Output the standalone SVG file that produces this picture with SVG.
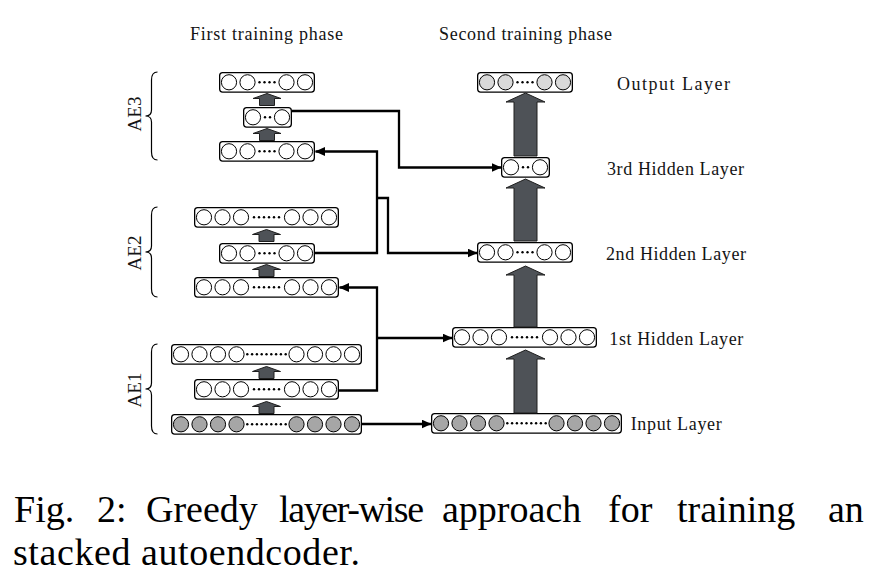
<svg xmlns="http://www.w3.org/2000/svg" xmlns:xlink="http://www.w3.org/1999/xlink" width="877" height="579" viewBox="0 0 877 579">
<style>
.box{fill:#fff;stroke:#000;stroke-width:1.3}
.c{stroke:#000;stroke-width:1}
.dot{fill:#000}
.blk{fill:#4e5257;stroke:#1e1e1e;stroke-width:1}
.con{fill:none;stroke:#000;stroke-width:2.3;stroke-linejoin:miter}
.lbl{font-family:"Liberation Serif","Times New Roman",serif;font-size:18px;fill:#141414;text-anchor:middle}
.ae{font-family:"Liberation Serif","Times New Roman",serif;font-size:19px;fill:#141414;text-anchor:middle}
.cap{font-family:"Liberation Serif","Times New Roman",serif;font-size:38px;fill:#000}
.brace{fill:none;stroke:#000;stroke-width:1.2}
</style>
<defs>
<marker id="ah" markerUnits="userSpaceOnUse" markerWidth="10" markerHeight="9" refX="9.5" refY="4.5" orient="auto">
<path d="M0,0 L10,4.5 L0,9 Z" fill="#000"/>
</marker>
<g id="L1">
<rect class="box" x="0.65" y="0.65" width="47.7" height="19.4" rx="3"/>
<circle class="c" cx="10" cy="10.3" r="7.6"/><circle class="c" cx="39" cy="10.3" r="7.6"/>
<circle class="dot" cx="22" cy="10.3" r="1.2"/><circle class="dot" cx="27" cy="10.3" r="1.2"/>
</g>
<g id="L2">
<rect class="box" x="0.65" y="0.65" width="94.7" height="19.4" rx="3"/>
<circle class="c" cx="10" cy="10.3" r="7.6"/><circle class="c" cx="28.5" cy="10.3" r="7.6"/>
<circle class="c" cx="67.5" cy="10.3" r="7.6"/><circle class="c" cx="86" cy="10.3" r="7.6"/>
<circle class="dot" cx="40.5" cy="10.3" r="1.2"/><circle class="dot" cx="45.5" cy="10.3" r="1.2"/>
<circle class="dot" cx="50.5" cy="10.3" r="1.2"/><circle class="dot" cx="55.5" cy="10.3" r="1.2"/>
</g>
<g id="L3">
<rect class="box" x="0.65" y="0.65" width="143.7" height="19.4" rx="3"/>
<circle class="c" cx="10" cy="10.3" r="7.6"/><circle class="c" cx="28.5" cy="10.3" r="7.6"/><circle class="c" cx="47" cy="10.3" r="7.6"/>
<circle class="c" cx="98" cy="10.3" r="7.6"/><circle class="c" cx="116.5" cy="10.3" r="7.6"/><circle class="c" cx="135" cy="10.3" r="7.6"/>
<circle class="dot" cx="60" cy="10.3" r="1.2"/><circle class="dot" cx="65" cy="10.3" r="1.2"/><circle class="dot" cx="70" cy="10.3" r="1.2"/>
<circle class="dot" cx="75" cy="10.3" r="1.2"/><circle class="dot" cx="80" cy="10.3" r="1.2"/><circle class="dot" cx="85" cy="10.3" r="1.2"/>
</g>
<g id="L4">
<rect class="box" x="0.65" y="0.65" width="189.7" height="19.4" rx="3"/>
<circle class="c" cx="10" cy="10.3" r="7.6"/><circle class="c" cx="28.5" cy="10.3" r="7.6"/><circle class="c" cx="47" cy="10.3" r="7.6"/><circle class="c" cx="65.5" cy="10.3" r="7.6"/>
<circle class="c" cx="125.5" cy="10.3" r="7.6"/><circle class="c" cx="144" cy="10.3" r="7.6"/><circle class="c" cx="162.5" cy="10.3" r="7.6"/><circle class="c" cx="181" cy="10.3" r="7.6"/>
<circle class="dot" cx="76.3" cy="10.3" r="1.2"/><circle class="dot" cx="81.1" cy="10.3" r="1.2"/><circle class="dot" cx="85.9" cy="10.3" r="1.2"/>
<circle class="dot" cx="90.7" cy="10.3" r="1.2"/><circle class="dot" cx="95.5" cy="10.3" r="1.2"/><circle class="dot" cx="100.3" cy="10.3" r="1.2"/>
<circle class="dot" cx="105.1" cy="10.3" r="1.2"/><circle class="dot" cx="109.9" cy="10.3" r="1.2"/><circle class="dot" cx="114.7" cy="10.3" r="1.2"/>
</g>
<path id="sa" class="blk" d="M-14,5 L0,0 L14,5 L7.5,5 L7.5,12 L-7.5,12 L-7.5,5 Z"/>
</defs>
<rect width="877" height="579" fill="#fff"/>

<!-- headers -->
<text class="lbl" x="266.5" y="40" textLength="153">First training phase</text>
<text class="lbl" x="525.5" y="40" textLength="173">Second training phase</text>

<!-- braces and AE labels -->
<g id="ae3-label">
<path class="brace" d="M157.5,72 Q151.5,72 151.5,80 L151.5,110 Q151.5,116 145.5,116 Q151.5,116 151.5,122 L151.5,152 Q151.5,160 157.5,160"/>
<text class="ae" transform="translate(141,114) rotate(-90)">AE3</text>
</g>
<g id="ae2-label">
<path class="brace" d="M157.5,207 Q151.5,207 151.5,215 L151.5,246 Q151.5,252 145.5,252 Q151.5,252 151.5,258 L151.5,289 Q151.5,297 157.5,297"/>
<text class="ae" transform="translate(141,253) rotate(-90)">AE2</text>
</g>
<g id="ae1-label">
<path class="brace" d="M157.5,344 Q151.5,344 151.5,352 L151.5,383 Q151.5,389 145.5,389 Q151.5,389 151.5,395 L151.5,426 Q151.5,434 157.5,434"/>
<text class="ae" transform="translate(141,390) rotate(-90)">AE1</text>
</g>

<!-- left column nodes -->
<g id="ae3-output"><use xlink:href="#L2" href="#L2" x="219" y="72" fill="#fff"/></g>
<g id="ae3-hidden"><use xlink:href="#L1" href="#L1" x="243" y="107" fill="#fff"/></g>
<g id="ae3-input"><use xlink:href="#L2" href="#L2" x="219" y="141" fill="#fff"/></g>
<g id="ae2-output"><use xlink:href="#L3" href="#L3" x="194" y="207" fill="#fff"/></g>
<g id="ae2-hidden"><use xlink:href="#L2" href="#L2" x="219" y="243" fill="#fff"/></g>
<g id="ae2-input"><use xlink:href="#L3" href="#L3" x="194" y="277" fill="#fff"/></g>
<g id="ae1-output"><use xlink:href="#L4" href="#L4" x="171" y="344" fill="#fff"/></g>
<g id="ae1-hidden"><use xlink:href="#L3" href="#L3" x="194" y="379" fill="#fff"/></g>
<g id="ae1-input"><use xlink:href="#L4" href="#L4" x="171" y="414" fill="#a6a6a6"/></g>

<!-- right column nodes -->
<g id="output-layer"><use xlink:href="#L2" href="#L2" x="477" y="72" fill="#d9d9d9"/><text class="lbl" x="673.5" y="89.5" textLength="113">Output Layer</text></g>
<g id="hidden3"><use xlink:href="#L1" href="#L1" x="501" y="157" fill="#fff"/><text class="lbl" x="675.5" y="175" textLength="137">3rd Hidden Layer</text></g>
<g id="hidden2"><use xlink:href="#L2" href="#L2" x="477" y="242" fill="#fff"/><text class="lbl" x="676" y="260" textLength="140">2nd Hidden Layer</text></g>
<g id="hidden1"><use xlink:href="#L3" href="#L3" x="452" y="327" fill="#fff"/><text class="lbl" x="676.3" y="344.5" textLength="134">1st Hidden Layer</text></g>
<g id="input-layer"><use xlink:href="#L4" href="#L4" x="431" y="413" fill="#a6a6a6"/><text class="lbl" x="676.2" y="430" textLength="91">Input Layer</text></g>

<!-- connectors -->
<g id="connectors">
<use xlink:href="#sa" href="#sa" x="267" y="93.5"/>
<use xlink:href="#sa" href="#sa" x="267" y="128.5"/>
<use xlink:href="#sa" href="#sa" x="266.5" y="229.5"/>
<use xlink:href="#sa" href="#sa" x="266.5" y="264.5"/>
<use xlink:href="#sa" href="#sa" x="266.5" y="366.5"/>
<use xlink:href="#sa" href="#sa" x="266.5" y="401.5"/>
<path class="blk" d="M506,102 L525.5,93 L545,102 L537,102 L537,156 L514,156 L514,102 Z"/>
<path class="blk" d="M506,188 L525.5,179 L545,188 L537,188 L537,241 L514,241 L514,188 Z"/>
<path class="blk" d="M506,275 L525.5,266 L545,275 L537,275 L537,327 L514,327 L514,275 Z"/>
<path class="blk" d="M506,359 L525.5,350 L545,359 L537,359 L537,413 L514,413 L514,359 Z"/>
<path class="con" d="M362,424 H431" marker-end="url(#ah)"/>
<path class="con" d="M339,390.5 H377 V287.5 H339.5" marker-end="url(#ah)"/>
<path class="con" d="M377,338 H452" marker-end="url(#ah)"/>
<path class="con" d="M314,253 H377 V151.5 H315.5" marker-end="url(#ah)"/>
<path class="con" d="M377,198 H388 V253 H477" marker-end="url(#ah)"/>
<path class="con" d="M292,111 H399 V167.5 H501" marker-end="url(#ah)"/>
</g>

<!-- caption -->
<text class="cap" y="522"><tspan x="14">Fig.</tspan><tspan x="97">2:</tspan><tspan x="146">Greedy</tspan><tspan x="279" textLength="145">layer-wise</tspan><tspan x="442">approach</tspan><tspan x="608">for</tspan><tspan x="677">training</tspan><tspan x="828">an</tspan></text>
<text class="cap" x="13" y="565" textLength="347">stacked autoendcoder.</text>
</svg>
